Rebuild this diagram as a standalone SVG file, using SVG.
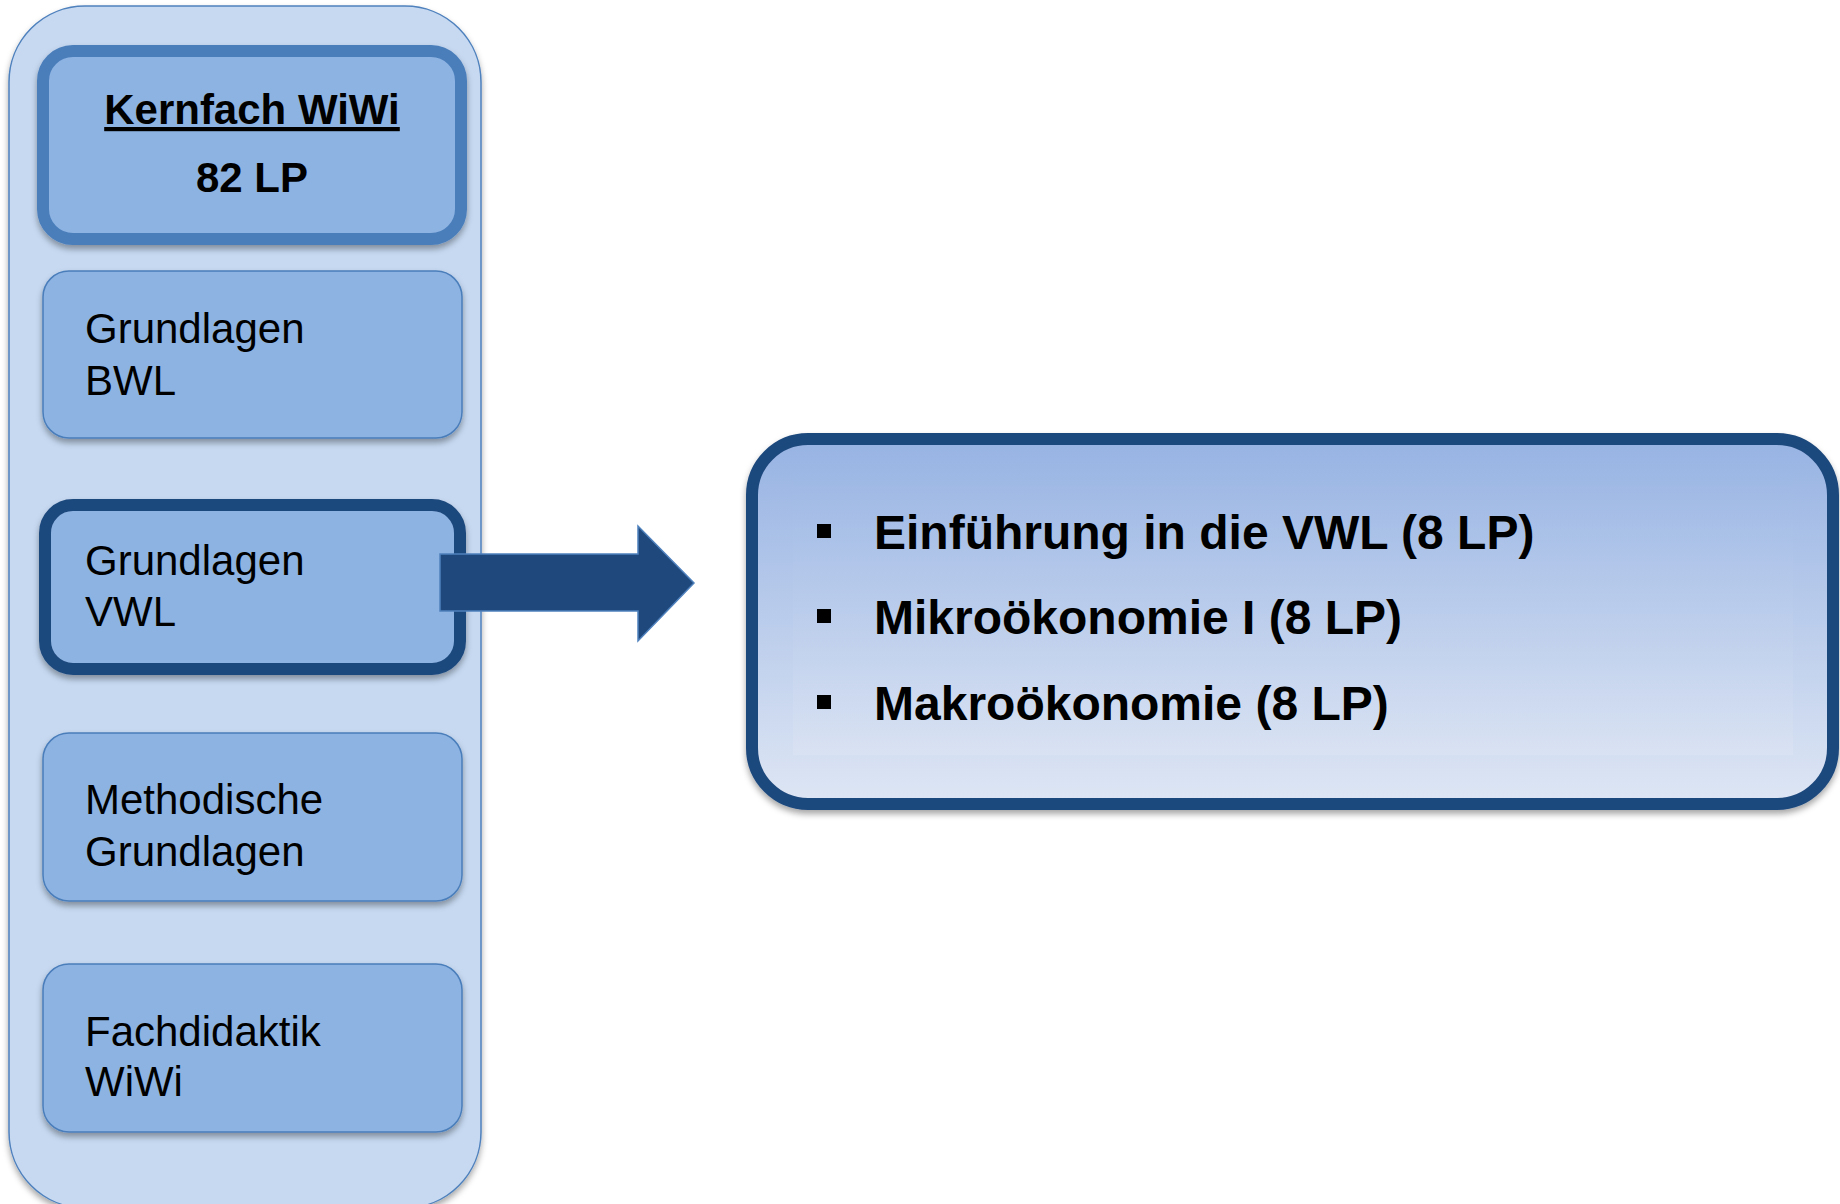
<svg xmlns="http://www.w3.org/2000/svg" width="1840" height="1204" viewBox="0 0 1840 1204">
<defs>
<filter id="sh" x="-10%" y="-10%" width="120%" height="130%">
<feDropShadow dx="0" dy="4" stdDeviation="3" flood-color="#000" flood-opacity="0.35"/>
</filter>
<linearGradient id="gBig" x1="0" y1="0" x2="0" y2="1">
<stop offset="0" stop-color="#97B3E3"/>
<stop offset="1" stop-color="#DEE6F4"/>
</linearGradient>
<linearGradient id="gIn" x1="0" y1="0" x2="0" y2="1">
<stop offset="0" stop-color="#9DB8E5"/>
<stop offset="1" stop-color="#DCE4F3"/>
</linearGradient>
<style>
.box{fill:#8DB3E2;stroke:#4A7EBB;stroke-width:1.5;filter:url(#sh)}
.lbl{font-family:"Liberation Sans",Arial,sans-serif;font-size:42px;fill:#000}
.b{font-weight:bold}
.item{font-family:"Liberation Sans",Arial,sans-serif;font-size:48px;font-weight:bold;fill:#000}
</style>
</defs>
<rect x="0" y="0" width="1840" height="1204" fill="#fff"/>
<g id="container">
<rect x="9" y="6" width="472" height="1202" rx="76" ry="76" fill="#C6D9F1" stroke="#4F81BD" stroke-width="1.5" filter="url(#sh)"/>
</g>
<g id="kernfach">
<rect x="43" y="51" width="418" height="188" rx="30" ry="30" fill="#8DB3E2" stroke="#4A7EBB" stroke-width="12" filter="url(#sh)"/>
<text class="lbl b" x="252" y="124" text-anchor="middle" text-decoration="underline">Kernfach WiWi</text>
<text class="lbl b" x="252" y="192" text-anchor="middle">82 LP</text>
</g>
<g id="bwl">
<rect class="box" x="43" y="271" width="419" height="167" rx="26" ry="26"/>
<text class="lbl" x="85" y="343">Grundlagen</text>
<text class="lbl" x="85" y="395">BWL</text>
</g>
<g id="vwl">
<rect x="45" y="505" width="415" height="164" rx="28" ry="28" fill="#8DB3E2" stroke="#1F497D" stroke-width="12" filter="url(#sh)"/>
<text class="lbl" x="85" y="575">Grundlagen</text>
<text class="lbl" x="85" y="626">VWL</text>
</g>
<g id="methodische">
<rect class="box" x="43" y="733" width="419" height="168" rx="26" ry="26"/>
<text class="lbl" x="85" y="814">Methodische</text>
<text class="lbl" x="85" y="866">Grundlagen</text>
</g>
<g id="fachdidaktik">
<rect class="box" x="43" y="964" width="419" height="168" rx="26" ry="26"/>
<text class="lbl" x="85" y="1046">Fachdidaktik</text>
<text class="lbl" x="85" y="1096">WiWi</text>
</g>
<g id="connectors">
<path d="M440 554 H638 V526 L694 583 L638 641 V611 H440 Z" fill="#1F497D" stroke="#4F81BD" stroke-width="1.5" stroke-linejoin="miter"/>
</g>
<g id="details">
<rect x="752" y="439" width="1081" height="365" rx="56" ry="56" fill="url(#gBig)" stroke="#1F497D" stroke-width="12" filter="url(#sh)"/>
<rect x="793" y="473" width="1000" height="282" fill="url(#gIn)" opacity="0.6"/>
<rect x="817" y="524" width="14" height="14" fill="#000"/>
<rect x="817" y="609" width="14" height="14" fill="#000"/>
<rect x="817" y="695" width="14" height="14" fill="#000"/>
<text class="item" x="874" y="549">Einführung in die VWL (8 LP)</text>
<text class="item" x="874" y="634">Mikroökonomie I (8 LP)</text>
<text class="item" x="874" y="720">Makroökonomie (8 LP)</text>
</g>
</svg>
